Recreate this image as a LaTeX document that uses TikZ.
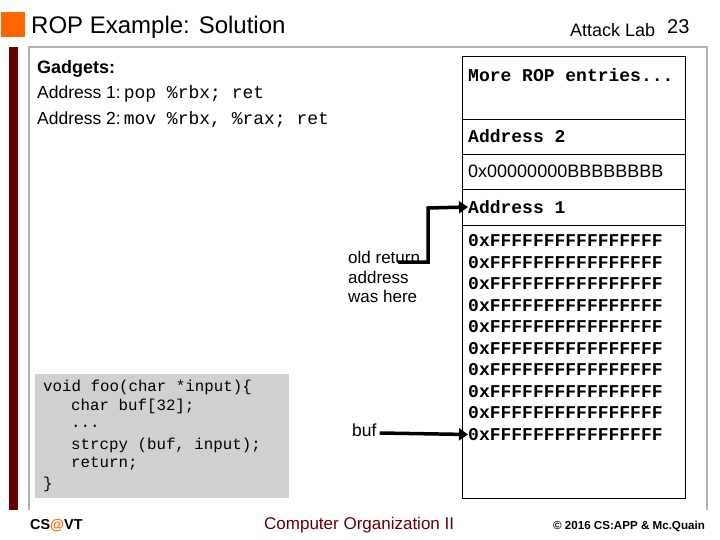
\documentclass[tikz,border=0pt]{standalone}
\usepackage{fontspec}
\setmainfont{Liberation Sans}
\setmonofont{Liberation Mono}
\definecolor{vtorange}{HTML}{FF6600}
\definecolor{vtmaroon}{HTML}{660000}
\definecolor{codegray}{HTML}{D0D0D0}
\tikzset{
  lbl/.style={anchor=west, inner sep=0pt, font=\fontsize{17.5}{20}\selectfont},
  stk/.style={anchor=west, inner sep=0pt, font=\fontsize{18}{20}\selectfont\ttfamily\bfseries},
  code/.style={anchor=west, inner sep=0pt, font=\fontsize{15.8}{18}\selectfont\ttfamily},
  bigarrow/.style={line width=3.5pt, -{Triangle[length=9pt,width=12pt]}},
}
\usetikzlibrary{arrows.meta}
\begin{document}
\begin{tikzpicture}[x=1pt,y=-1pt]
\useasboundingbox (0,0) rectangle (720,540);
\fill[white] (0,0) rectangle (720,540);
% frame
\fill[vtorange] (1,12) rectangle (25,37);
\node[anchor=west, inner sep=0pt, font=\fontsize{24}{26}\selectfont] (title) at (31,27) {ROP Example: Solution};
\node[anchor=west, inner sep=0pt, font=\fontsize{18}{20}\selectfont] (lab) at (570,30) {Attack Lab};
\node[anchor=west, inner sep=0pt, font=\fontsize{20}{22}\selectfont] (num) at (667,27) {23};
\fill[vtmaroon] (9,47) rectangle (18,510);
\draw[gray!60, line width=1.5pt] (29,510) -- (29,47) -- (707,47) -- (707,510);
% gadgets
\node[lbl, font=\fontsize{18}{20}\selectfont\bfseries] (g) at (37,69) {Gadgets:};
\node[lbl] (a1) at (37,94) {Address 1:\,{\ttfamily\fontsize{18}{20}\selectfont pop \%rbx; ret}};
\node[lbl] (a2) at (37,120) {Address 2:\,{\ttfamily\fontsize{18}{20}\selectfont mov \%rbx, \%rax; ret}};
% stack
\draw[thin] (462,56) rectangle (685,498);
\draw[thin] (462,119) -- (685,119);
\draw[thin] (462,154) -- (685,154);
\draw[thin] (462,189) -- (685,189);
\draw[thin] (462,225) -- (685,225);
\node[stk] (more) at (468,75) {More ROP entries...};
\node[stk] (ad2) at (468,136) {Address 2};
\node[anchor=west, inner sep=0pt, font=\fontsize{18}{20}\selectfont] (bb) at (468,171) {0x00000000BBBBBBBB};
\node[stk] (ad1) at (468,207) {Address 1};
\foreach \i in {0,...,9} {
  \node[stk] (f\i) at (468,{241+21.5*\i}) {0xFFFFFFFFFFFFFFFF};
}
% labels and arrows
\node[lbl, align=left, font=\fontsize{17}{19.5}\selectfont, anchor=north west] (old) at (348,251) {old return\\address\\was here};
\coordinate (c1) at (428,208);
\coordinate (s1) at (398,262);
\draw[bigarrow] (s1) -| (c1) -- (ad1.west);
\node[lbl, font=\fontsize{17.5}{20}\selectfont] (buf) at (352,430) {buf};
\draw[bigarrow] (buf.east) ++(3,3) -- (f9.west);
% code box
\fill[codegray] (35,374) rectangle (289,498);
\node[code] (c1l) at (43,387) {void foo(char *input)\{};
\node[code] (c2l) at (71,406) {char buf[32];};
\node[code] (c3l) at (71,426) {...};
\node[code] (c4l) at (71,445) {strcpy (buf, input);};
\node[code] (c5l) at (71,464) {return;};
\node[code] (c6l) at (43,484) {\}};
% footer
\node[anchor=west, inner sep=0pt, font=\fontsize{14.4}{16}\selectfont\bfseries] (cs) at (30,526) {CS{\color{vtorange}@}VT};
\node[anchor=west, inner sep=0pt, font=\fontsize{17}{19}\selectfont, text=vtmaroon] (co) at (264,525) {Computer Organization II};
\node[anchor=west, inner sep=0pt, font=\fontsize{11.6}{13}\selectfont\bfseries] (cp) at (553,526) {© 2016 CS:APP \& Mc.Quain};
\end{tikzpicture}
\end{document}
